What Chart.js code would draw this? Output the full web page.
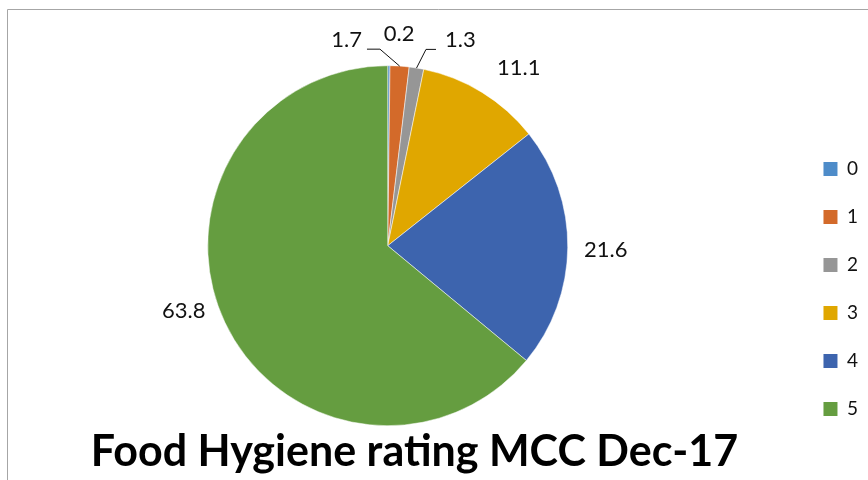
<!DOCTYPE html>
<html>
<head>
<meta charset="utf-8">
<script src="https://cdn.jsdelivr.net/npm/chart.js@4/dist/chart.umd.min.js"></script>
<style>
  html, body { margin: 0; padding: 0; background: #ffffff; }
  #wrap { width: 868px; height: 480px; position: relative; }
</style>
</head>
<body>
<div id="wrap"><canvas id="c" width="868" height="480"></canvas></div>
<script>
// ---- data ----
const categories = ['0', '1', '2', '3', '4', '5'];
const ratingShares = [0.2, 1.7, 1.3, 11.1, 21.6, 63.8];
const chartTitle = 'Food Hygiene rating MCC Dec-17';

// ---- style ----
const sliceColours = ['#4E8CC9', '#D36A2A', '#969696', '#E0A700', '#3D64AE', '#659D40'];
// label nudges (px) from the default spot on each slice's middle angle
const labelNudge = [[10, -2], [-55, 4], [39, 2], [21, 1], [8, 2], [-14, -24]];
const leaderSide = [null, 'right', 'left', null, null, null];
// horizontal nudges (px) for the legend and title boxes after layout
const boxShift = { legend: 19, title: -10 };

const frame = {
  id: 'frame',
  beforeDraw(chart) {
    const ctx = chart.ctx;
    ctx.save();
    ctx.strokeStyle = '#A6A6A6';
    ctx.lineWidth = 1;
    ctx.beginPath();
    ctx.moveTo(7.5, 490);
    ctx.lineTo(7.5, 9.5);
    ctx.lineTo(880, 9.5);
    ctx.stroke();
    ctx.restore();
  }
};

const shiftBoxes = {
  id: 'shiftBoxes',
  afterLayout(chart) {
    if (chart.legend) { chart.legend.left += boxShift.legend; chart.legend.right += boxShift.legend; }
    if (chart.titleBlock) { chart.titleBlock.left += boxShift.title; chart.titleBlock.right += boxShift.title; }
  }
};

const sliceLabels = {
  id: 'sliceLabels',
  afterDatasetsDraw(chart) {
    const ctx = chart.ctx;
    const meta = chart.getDatasetMeta(0);
    const values = chart.data.datasets[0].data;
    ctx.save();
    ctx.font = '22px Lato';
    ctx.fillStyle = '#111111';
    ctx.strokeStyle = '#111111';
    ctx.lineWidth = 1;
    ctx.textAlign = 'center';
    ctx.textBaseline = 'middle';
    meta.data.forEach((arc, i) => {
      const p = arc.getProps(['x', 'y', 'startAngle', 'endAngle', 'outerRadius'], true);
      const mid = (p.startAngle + p.endAngle) / 2;
      const R = p.outerRadius + 30;
      const lx = p.x + Math.cos(mid) * R + labelNudge[i][0];
      const ly = p.y + Math.sin(mid) * R + labelNudge[i][1];
      const text = String(values[i]);
      ctx.fillText(text, lx, ly);
      const side = leaderSide[i];
      if (side) {
        const w = ctx.measureText(text).width;
        const sx = side === 'right' ? lx + w / 2 + 5 : lx - w / 2 - 9;
        const sy = ly + 9;
        const ex = side === 'right' ? sx + 13 : sx - 10;
        const px = p.x + Math.cos(mid) * p.outerRadius;
        const py = p.y + Math.sin(mid) * p.outerRadius;
        ctx.beginPath();
        ctx.moveTo(sx, sy);
        ctx.lineTo(ex, sy);
        ctx.lineTo(px, py);
        ctx.stroke();
      }
    });
    ctx.restore();
  }
};

Chart.defaults.font.family = 'Lato';
Chart.defaults.color = '#111111';

const baseGen = (Chart.DoughnutController && Chart.DoughnutController.overrides.plugins.legend.labels.generateLabels);

new Chart(document.getElementById('c'), {
  type: 'pie',
  data: {
    labels: categories,
    datasets: [{
      data: ratingShares,
      backgroundColor: sliceColours,
      borderColor: '#ffffff',
      borderWidth: 0.5
    }]
  },
  options: {
    responsive: false,
    animation: false,
    radius: 180,
    layout: { padding: { top: 44, bottom: 24, left: 0, right: 19 } },
    plugins: {
      legend: {
        position: 'right',
        align: 'end',
        fullSize: false,
        labels: {
          boxWidth: 14,
          boxHeight: 14,
          padding: 29,
          font: { size: 19, family: 'Lato' },
          color: '#111111',
          generateLabels(chart) {
            const items = baseGen(chart);
            items.forEach(it => { it.lineWidth = 0; it.strokeStyle = 'rgba(0,0,0,0)'; });
            return items;
          }
        }
      },
      title: {
        display: true,
        text: chartTitle,
        position: 'bottom',
        color: '#000000',
        font: { size: 43, weight: 'bold', family: 'Lato', lineHeight: 0.2 },
        padding: { top: 0, bottom: 0 }
      },
      tooltip: { enabled: false }
    }
  },
  plugins: [frame, shiftBoxes, sliceLabels]
});
</script>
</body>
</html>
